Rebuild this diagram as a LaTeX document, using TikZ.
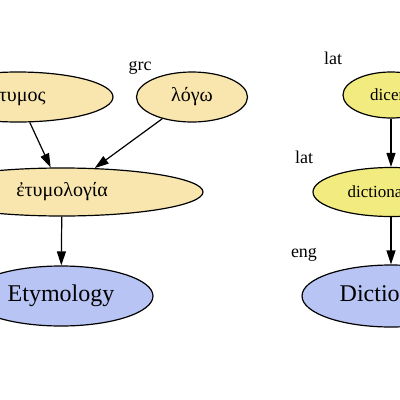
\documentclass[tikz,border=0pt]{standalone}
\usepackage{fontspec}
\setmainfont{Liberation Serif}
\usetikzlibrary{shapes.geometric,arrows.meta}
\definecolor{grcfill}{RGB}{248, 230, 174}
\definecolor{latfill}{RGB}{242, 236, 128}
\definecolor{engfill}{RGB}{184, 196, 244}

\begin{document}
\begin{tikzpicture}[
    x=1pt, y=-1pt,
    word/.style={ellipse, draw=black, line width=1.2pt, fill=#1, inner sep=0pt,
                 font=\fontsize{17}{20}\selectfont},
    word/.default=grcfill,
    greek/.style={font=\fontsize{20}{24}\selectfont},
    big/.style={font=\fontsize{24}{28}\selectfont},
    lang/.style={font=\fontsize{18}{21}\selectfont},
    arrow/.style={-{Triangle[length=14pt, width=9pt]}, line width=1.2pt}
]
\useasboundingbox (0,0) rectangle (400,400);
\clip (0,0) rectangle (400,400);

% Left tree: Greek roots
\node[word, greek, minimum width=190pt, minimum height=50pt] (etymos) at (18,97) {ἔτυμος};
\node[word, greek, minimum width=111pt, minimum height=50pt] (logo) at (192,97) {λόγω};
\node[word, greek, minimum width=282pt, minimum height=48pt] (etymologia) at (62,192) {ἐτυμολογία};
\node[word=engfill, big, minimum width=184pt, minimum height=60pt] (etymology) at (61,296) {Etymology};

% Right tree: Latin roots
\node[word=latfill, minimum width=96pt, minimum height=46pt] (dicere) at (391,95) {dicere};
\node[word=latfill, minimum width=156pt, minimum height=49pt] (dictionarium) at (391,192) {dictionarium};
\node[word=engfill, big, minimum width=178pt, minimum height=62pt] (dictionary) at (391,296) {Dictionary};

% Language tags
\node[lang] (tgrc) at (140,68) {grc};
\node[lang] (tlat1) at (333,58) {lat};
\node[lang] (tlat2) at (304,157) {lat};
\node[lang] (teng) at (304,255) {eng};

% Arrows
\draw[arrow] (etymos) -- (etymologia);
\draw[arrow] (logo) -- (etymologia);
\draw[arrow] (etymologia) -- (etymology);
\draw[arrow] (dicere) -- (dictionarium);
\draw[arrow] (dictionarium) -- (dictionary);
\end{tikzpicture}
\end{document}
